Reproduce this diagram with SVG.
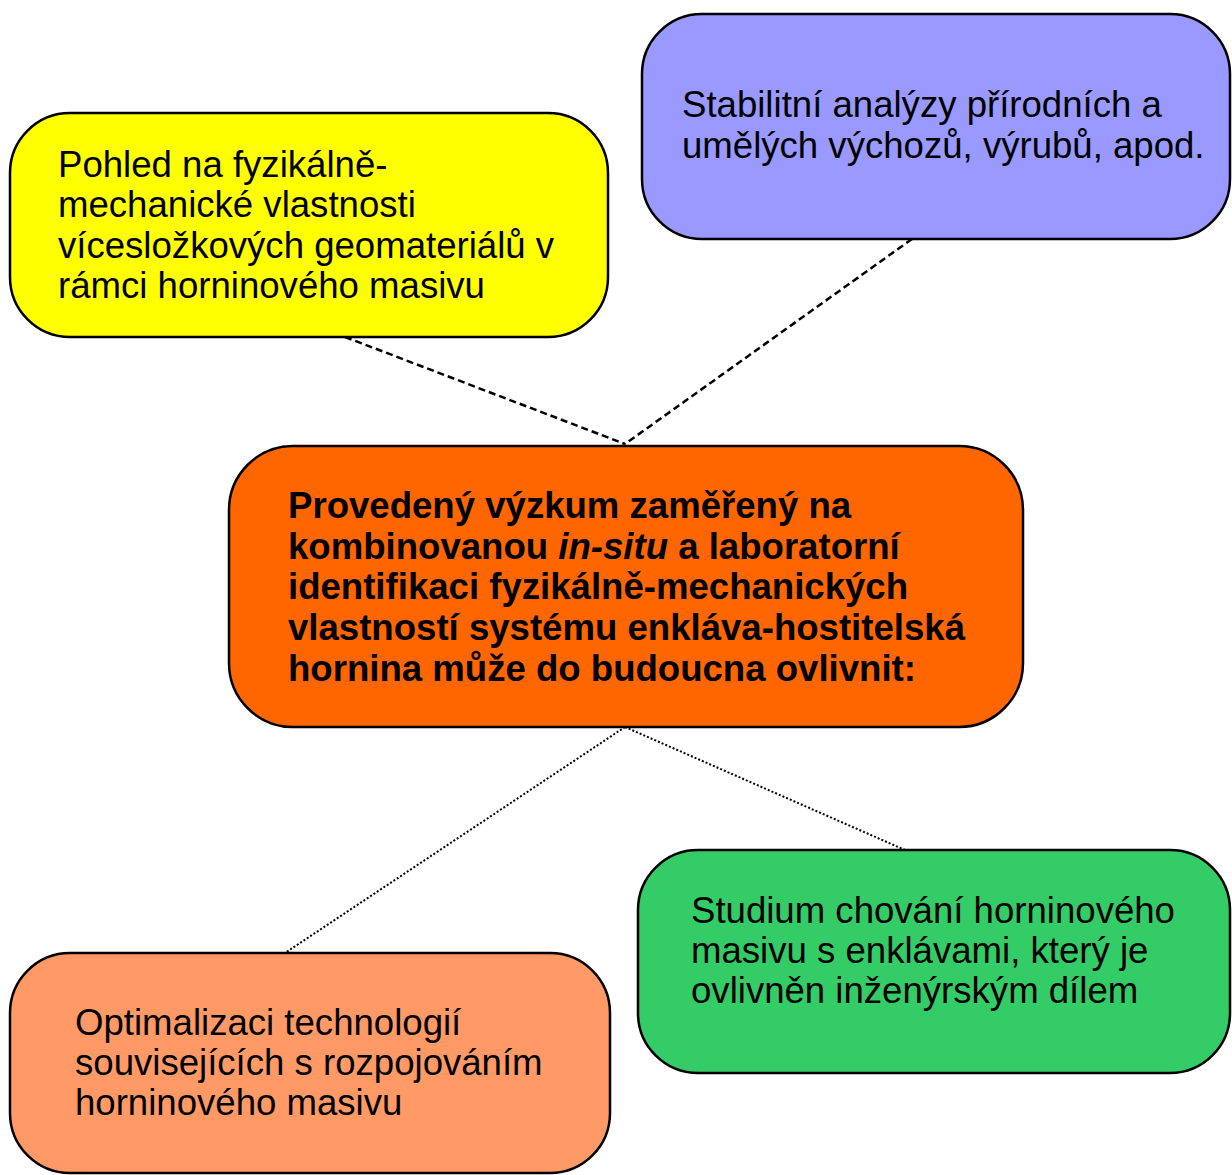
<svg xmlns="http://www.w3.org/2000/svg" width="1232" height="1175" viewBox="0 0 1232 1175">
<style>
.box{stroke:#000;stroke-width:2.5}
.t{font-family:"Liberation Sans",Arial,sans-serif;font-size:36.6px;fill:#000}
.b{font-weight:bold}
.dash{stroke:#000;stroke-width:2.5;stroke-dasharray:7 4;fill:none}
.dot{stroke:#000;stroke-width:2;stroke-dasharray:2 2;fill:none}
</style>
<rect width="1232" height="1175" fill="#fff"/>
<g id="connectors">
<line class="dash" x1="345" y1="337" x2="625" y2="444"/>
<line class="dash" x1="912" y1="239" x2="625" y2="444"/>
<line class="dot" x1="625" y1="727" x2="285" y2="953"/>
<line class="dot" x1="625" y1="727" x2="905" y2="850"/>
</g>
<g id="node-yellow">
<rect class="box" x="10" y="113" width="598" height="224" rx="60" fill="#ffff00"/>
<text class="t" x="58" y="176.5">Pohled na fyzikálně-</text>
<text class="t" x="58" y="217">mechanické vlastnosti</text>
<text class="t" x="58" y="257.5">vícesložkových geomateriálů v</text>
<text class="t" x="58" y="298">rámci horninového masivu</text>
</g>
<g id="node-purple">
<rect class="box" x="642" y="14" width="588" height="225" rx="60" fill="#9999ff"/>
<text class="t" x="682" y="116.5">Stabilitní analýzy přírodních a</text>
<text class="t" x="682" y="158">umělých výchozů, výrubů, apod.</text>
</g>
<g id="node-center">
<rect class="box" x="229" y="446" width="794" height="281" rx="64" fill="#ff6600"/>
<text class="t b" x="288" y="518">Provedený výzkum zaměřený na</text>
<text class="t b" x="288" y="559">kombinovanou <tspan font-style="italic">in-situ</tspan> a laboratorní</text>
<text class="t b" x="288" y="599">identifikaci fyzikálně-mechanických</text>
<text class="t b" x="288" y="640">vlastností systému enkláva-hostitelská</text>
<text class="t b" x="288" y="681">hornina může do budoucna ovlivnit:</text>
</g>
<g id="node-green">
<rect class="box" x="638" y="850" width="592" height="223" rx="60" fill="#33cc66"/>
<text class="t" x="691" y="923">Studium chování horninového</text>
<text class="t" x="691" y="963">masivu s enklávami, který je</text>
<text class="t" x="691" y="1003">ovlivněn inženýrským dílem</text>
</g>
<g id="node-salmon">
<rect class="box" x="10" y="953" width="600" height="220" rx="60" fill="#ff9966"/>
<text class="t" x="75" y="1035">Optimalizaci technologií</text>
<text class="t" x="75" y="1075">souvisejících s rozpojováním</text>
<text class="t" x="75" y="1115">horninového masivu</text>
</g>
</svg>
